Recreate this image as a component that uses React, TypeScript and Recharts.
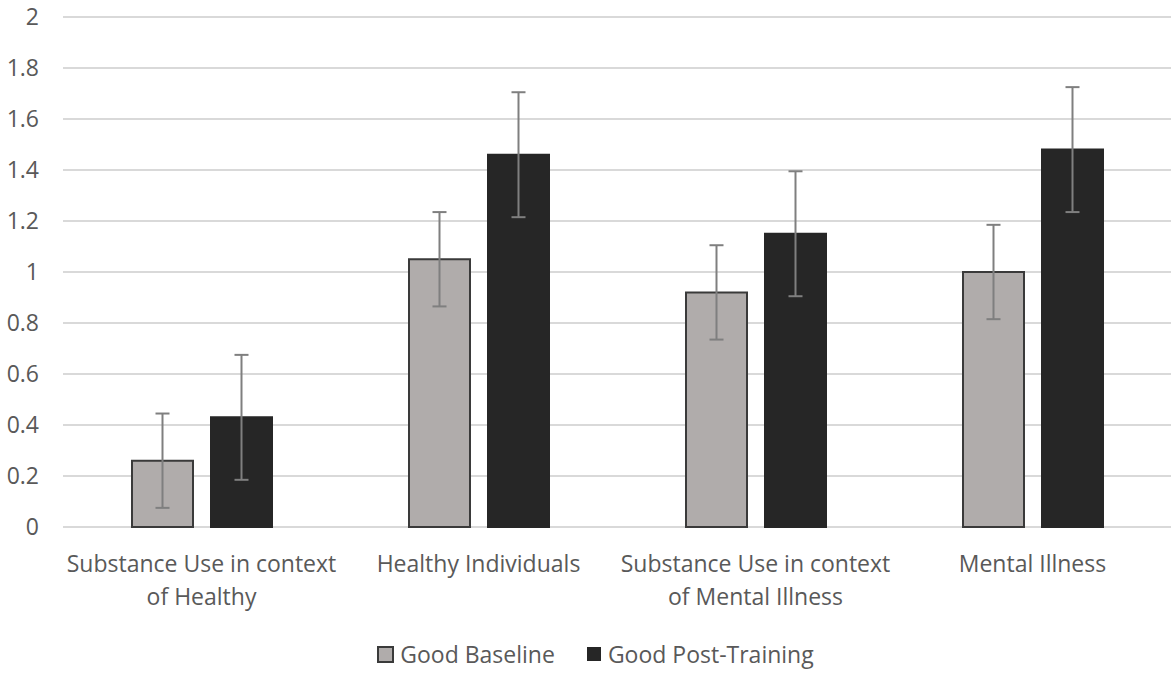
import { BarChart, Bar, XAxis, YAxis, CartesianGrid, ErrorBar, Legend } from 'recharts'

const CATEGORIES = [
  'Substance Use in context of Healthy',
  'Healthy Individuals',
  'Substance Use in context of Mental Illness',
  'Mental Illness',
]
const BASELINE = [0.26, 1.05, 0.92, 1.0]
const BASELINE_ERR = [0.185, 0.185, 0.185, 0.185]
const POST = [0.43, 1.46, 1.15, 1.48]
const POST_ERR = [0.245, 0.245, 0.245, 0.245]
const Y_TICKS = [0, 0.2, 0.4, 0.6, 0.8, 1, 1.2, 1.4, 1.6, 1.8, 2]

const FONT = '"Open Sans", "Noto Sans", sans-serif'
const TEXT = '#595959'
const FS = 23

const data = CATEGORIES.map((name, i) => ({
  name,
  baseline: BASELINE[i],
  baselineErr: BASELINE_ERR[i],
  post: POST[i],
  postErr: POST_ERR[i],
}))

function wrap(label: string, max = 25) {
  const lines: string[] = []
  let cur = ''
  for (const w of label.split(' ')) {
    const next = cur ? cur + ' ' + w : w
    if (next.length > max && cur) {
      lines.push(cur)
      cur = w
    } else cur = next
  }
  if (cur) lines.push(cur)
  return lines
}

function CategoryTick({ x, y, payload }: any) {
  const lines = wrap(payload.value)
  return (
    <text x={x} y={y} textAnchor="middle" fill={TEXT} fontSize={FS} fontFamily={FONT}>
      {lines.map((l, i) => (
        <tspan key={i} x={x} dy={i === 0 ? 37 : 33}>
          {l}
        </tspan>
      ))}
    </text>
  )
}

function LegendBox() {
  return (
    <div
      style={{
        display: 'flex',
        justifyContent: 'center',
        alignItems: 'center',
        fontFamily: FONT,
        fontSize: FS,
        color: TEXT,
        height: 40,
        paddingLeft: 20,
      }}
    >
      <span style={{ display: 'flex', alignItems: 'center', marginRight: 32 }}>
        <span
          style={{
            width: 13,
            height: 13,
            background: '#b0acab',
            border: '2px solid #3a3a3a',
            marginRight: 6,
          }}
        />
        Good Baseline
      </span>
      <span style={{ display: 'flex', alignItems: 'center' }}>
        <span style={{ width: 14, height: 14, background: '#262626', marginRight: 7 }} />
        Good Post-Training
      </span>
    </div>
  )
}

export default function App() {
  return (
    <div style={{ position: 'absolute', left: 0, top: 0, background: '#fff' }}>
      <BarChart
        width={1175}
        height={677}
        data={data}
        margin={{ top: 17, right: 4, bottom: 0, left: 0 }}
        barSize={61}
        barGap={18}
      >
        <CartesianGrid vertical={false} stroke="#d9d9d9" strokeWidth={2} />
        <XAxis
          dataKey="name"
          axisLine={false}
          tickLine={false}
          interval={0}
          height={110}
          tick={<CategoryTick />}
        />
        <YAxis
          domain={[0, 2]}
          ticks={Y_TICKS}
          width={63}
          axisLine={false}
          tickLine={false}
          tickSize={0}
          tickMargin={24}
          tick={{ fill: TEXT, fontSize: FS, fontFamily: FONT }}
        />
        <Legend verticalAlign="bottom" height={40} wrapperStyle={{ bottom: 3 }} content={<LegendBox />} />
        <Bar dataKey="baseline" fill="#b0acab" stroke="#3a3a3a" strokeWidth={2} isAnimationActive={false}>
          <ErrorBar dataKey="baselineErr" width={7} stroke="#7f7f7f" strokeWidth={2} direction="y" />
        </Bar>
        <Bar dataKey="post" fill="#262626" stroke="#262626" strokeWidth={2} isAnimationActive={false}>
          <ErrorBar dataKey="postErr" width={7} stroke="#7f7f7f" strokeWidth={2} direction="y" />
        </Bar>
      </BarChart>
    </div>
  )
}
